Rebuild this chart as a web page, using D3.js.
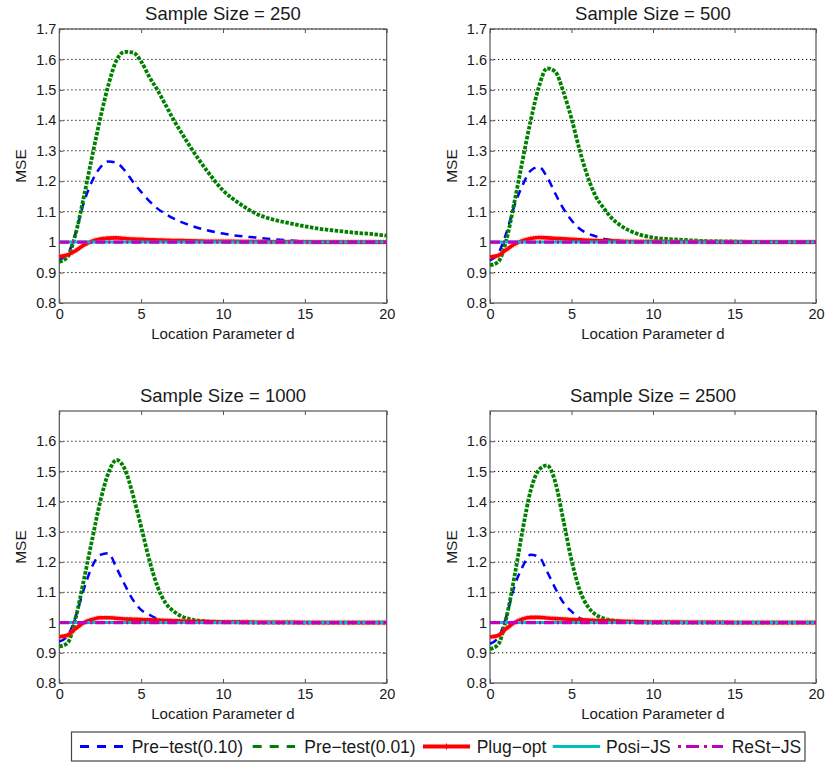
<!DOCTYPE html>
<html><head><meta charset="utf-8">
<script src="https://cdn.jsdelivr.net/npm/d3@7"></script>
<style>
body{margin:0;background:#fff;}
svg{display:block;font-family:"Liberation Sans",Arial,sans-serif;}
</style></head>
<body><svg id="c" width="827" height="763"></svg>
<script>
// ---------- data ----------
const dGrid = [0,0.5,1,1.5,2,2.5,3,3.5,4,4.5,5,5.5,6,6.5,7,7.5,8,9,10,11,12,13,14,15,16,17,18,19,20];
const dFlat = [0,5,10,15,20];
const xTicks = [0,5,10,15,20];
const yTicksTop = [0.8,0.9,1.0,1.1,1.2,1.3,1.4,1.5,1.6,1.7];
const yTicksBottom = [0.8,0.9,1.0,1.1,1.2,1.3,1.4,1.5,1.6];
const titles = ["Sample Size = 250","Sample Size = 500","Sample Size = 1000","Sample Size = 2500"];
const seriesNames = ["Pre\u2212test(0.10)","Pre\u2212test(0.01)","Plug\u2212opt","Posi\u2212JS","ReSt\u2212JS"];

const pre10_250 = [0.942,0.96,1.03,1.13,1.20,1.245,1.265,1.26,1.235,1.198,1.165,1.135,1.11,1.092,1.077,1.065,1.055,1.039,1.028,1.02,1.015,1.01,1.006,1.003,1.002,1.001,1.0,1.0,1.0];
const pre01_250 = [0.935,0.951,1.028,1.149,1.28,1.406,1.516,1.598,1.625,1.623,1.593,1.543,1.499,1.45,1.40,1.356,1.313,1.236,1.17,1.127,1.094,1.075,1.063,1.052,1.043,1.037,1.031,1.027,1.021];
const plug_250  = [0.953,0.958,0.972,0.99,1.003,1.01,1.013,1.014,1.012,1.01,1.009,1.008,1.007,1.006,1.005,1.005,1.004,1.003,1.003,1.002,1.002,1.001,1.001,1.001,1.0,1.0,1.0,1.0,1.0];

const pre10_500 = [0.94,0.962,1.03,1.12,1.187,1.235,1.247,1.214,1.16,1.11,1.072,1.044,1.028,1.019,1.01,1.007,1.004,1.002,1.001,1.0,1.0,1.0,1.0,1.0,1.0,1.0,1.0,1.0,1.0];
const pre01_500 = [0.924,0.935,1.006,1.132,1.269,1.40,1.51,1.571,1.56,1.494,1.406,1.302,1.214,1.149,1.11,1.077,1.055,1.028,1.015,1.01,1.007,1.004,1.003,1.002,1.001,1.001,1.0,1.0,1.0];
const plug_500  = [0.951,0.956,0.975,0.993,1.005,1.012,1.015,1.014,1.012,1.011,1.009,1.008,1.006,1.005,1.004,1.004,1.003,1.002,1.002,1.001,1.001,1.001,1.0,1.0,1.0,1.0,1.0,1.0,1.0];

const pre10_1000 = [0.937,0.955,1.02,1.11,1.185,1.224,1.229,1.18,1.125,1.075,1.042,1.026,1.012,1.006,1.003,1.002,1.001,1.0,1.0,1.0,1.0,1.0,1.0,1.0,1.0,1.0,1.0,1.0,1.0];
const pre01_1000 = [0.921,0.932,1.015,1.141,1.273,1.40,1.495,1.538,1.508,1.422,1.317,1.207,1.119,1.064,1.037,1.02,1.011,1.004,1.002,1.001,1.0,1.0,1.0,1.0,1.0,1.0,1.0,1.0,1.0];
const plug_1000  = [0.953,0.958,0.98,1.0,1.01,1.016,1.016,1.014,1.012,1.011,1.01,1.009,1.008,1.007,1.006,1.005,1.004,1.003,1.002,1.002,1.001,1.001,1.001,1.0,1.0,1.0,1.0,1.0,1.0];

const pre10_2500 = [0.93,0.95,1.02,1.12,1.185,1.224,1.218,1.169,1.114,1.066,1.037,1.015,1.007,1.003,1.002,1.001,1.0,1.0,1.0,1.0,1.0,1.0,1.0,1.0,1.0,1.0,1.0,1.0,1.0];
const pre01_2500 = [0.912,0.927,1.015,1.152,1.306,1.438,1.505,1.52,1.466,1.339,1.207,1.108,1.053,1.026,1.013,1.007,1.004,1.001,1.0,1.0,1.0,1.0,1.0,1.0,1.0,1.0,1.0,1.0,1.0];
const plug_2500  = [0.952,0.957,0.98,1.0,1.012,1.017,1.017,1.015,1.013,1.012,1.01,1.009,1.008,1.007,1.006,1.005,1.004,1.003,1.002,1.002,1.001,1.001,1.001,1.0,1.0,1.0,1.0,1.0,1.0];

const posiJS = [1,1,1,1,1];
const restJS = [1,1,1,1,1];

// ---------- layout ----------
const panels = [
  {title:titles[0], x0:59.3, x1:386.7, y0:29,  y1:303, yt:yTicksTop,    s:[pre10_250,pre01_250,plug_250]},
  {title:titles[1], x0:490,  x1:816,   y0:29,  y1:303, yt:yTicksTop,    s:[pre10_500,pre01_500,plug_500]},
  {title:titles[2], x0:59.3, x1:386.7, y0:411, y1:683, yt:yTicksBottom, s:[pre10_1000,pre01_1000,plug_1000]},
  {title:titles[3], x0:490,  x1:816,   y0:411, y1:683, yt:yTicksBottom, s:[pre10_2500,pre01_2500,plug_2500]}
];
const styles = [
  {color:"#0000ff", w:2.5, dash:"8,6"},
  {color:"#008000", w:3.8, dash:"3.5,1.5"},
  {color:"#ff0000", w:3.6, dash:null},
  {color:"#00bfbf", w:3,   dash:null},
  {color:"#bf00bf", w:3.2, dash:"10,3,2,3"}
];
const textColor = "#1a1a1a";
const axisColor = "#555";
const svg = d3.select("#c");
const fmt = v => String(+v.toFixed(1));

panels.forEach(p => {
  const x = d3.scaleLinear().domain([0,20]).range([p.x0,p.x1]);
  const y = d3.scaleLinear().domain([0.8,1.7]).range([p.y1,p.y0]);
  const g = svg.append("g");

  // grid
  g.selectAll("line.grid").data(p.yt.filter(v => v > 0.85)).enter().append("line")
    .attr("x1", p.x0).attr("x2", p.x1).attr("y1", d => y(d)).attr("y2", d => y(d))
    .attr("stroke", "#000").attr("stroke-width", 1).attr("stroke-dasharray", "1.2,2.8");

  // box
  g.append("rect").attr("x", p.x0).attr("y", p.y0).attr("width", p.x1-p.x0).attr("height", p.y1-p.y0)
    .attr("fill", "none").attr("stroke", axisColor).attr("stroke-width", 1.2);

  // axes
  const ab = g.append("g").attr("transform", `translate(0,${p.y1})`)
    .call(d3.axisBottom(x).tickValues(xTicks).tickSize(-4).tickPadding(6).tickFormat(d3.format("d")));
  const al = g.append("g").attr("transform", `translate(${p.x0},0)`)
    .call(d3.axisLeft(y).tickValues(p.yt).tickSize(-4).tickPadding(3).tickFormat(fmt));
  const at = g.append("g").attr("transform", `translate(0,${p.y0})`)
    .call(d3.axisTop(x).tickValues(xTicks).tickSize(-4).tickFormat(""));
  const ar = g.append("g").attr("transform", `translate(${p.x1},0)`)
    .call(d3.axisRight(y).tickValues(p.yt).tickSize(-4).tickFormat(""));
  [ab,al,at,ar].forEach(a => {
    a.select(".domain").remove();
    a.selectAll(".tick line").attr("stroke", axisColor);
    a.selectAll(".tick text").attr("fill", textColor).style("font-size","14.5px")
      .style("font-family","'Liberation Sans',Arial,sans-serif");
  });

  // curves
  const line = d3.line().x((d,i) => x(dGrid[i])).y(d => y(d)).curve(d3.curveMonotoneX);
  const flat = d3.line().x((d,i) => x(dFlat[i])).y(d => y(d));
  p.s.forEach((arr, k) => {
    const st = styles[k];
    if (k === 2) {
      g.append("path").attr("d", line(arr)).attr("fill","none")
        .attr("stroke","#ff5050").attr("stroke-opacity",0.45).attr("stroke-width",5.5)
        .attr("stroke-dasharray","1.5,1");
    }
    const path = g.append("path").attr("d", line(arr)).attr("fill","none")
      .attr("stroke", st.color).attr("stroke-width", st.w);
    if (st.dash) path.attr("stroke-dasharray", st.dash);
  });
  [posiJS, restJS].forEach((arr, j) => {
    const st = styles[3+j];
    const path = g.append("path").attr("d", flat(arr)).attr("fill","none")
      .attr("stroke", st.color).attr("stroke-width", st.w);
    if (st.dash) path.attr("stroke-dasharray", st.dash);
  });

  // titles & labels
  g.append("text").attr("x", (p.x0+p.x1)/2).attr("y", p.y0-9).attr("text-anchor","middle")
    .attr("fill", textColor).style("font-size","18.5px").text(p.title);
  g.append("text").attr("x", (p.x0+p.x1)/2).attr("y", p.y1+36).attr("text-anchor","middle")
    .attr("fill", textColor).style("font-size","15px").text("Location Parameter d");
  g.append("text").attr("transform", `translate(${p.x0-33},${(p.y0+p.y1)/2}) rotate(-90)`)
    .attr("text-anchor","middle").attr("fill", textColor).style("font-size","15.5px").text("MSE");
});

// ---------- legend ----------
const lg = svg.append("g");
lg.append("rect").attr("x",71.5).attr("y",732).attr("width",733.5).attr("height",29)
  .attr("fill","#fff").attr("stroke","#444").attr("stroke-width",1.2);
const legendItems = [
  {lx0:80,  lx1:123, tx:131.7},
  {lx0:252.7, lx1:295, tx:304.3},
  {lx0:423, lx1:470, tx:476.7},
  {lx0:552.7, lx1:600, tx:606},
  {lx0:678, lx1:723, tx:731.7}
];
const legendDash = ["9,8","9,8",null,null,"3,5,13,5"];
const ly = 746.5;
legendItems.forEach((it, k) => {
  const st = styles[k];
  const l = lg.append("line").attr("x1", it.lx0).attr("x2", it.lx1).attr("y1", ly).attr("y2", ly)
    .attr("stroke", st.color).attr("stroke-width", k===2 ? 4 : 3.2);
  if (legendDash[k]) l.attr("stroke-dasharray", legendDash[k]);
  if (k === 2) {
    lg.append("line").attr("x1",(it.lx0+it.lx1)/2).attr("x2",(it.lx0+it.lx1)/2)
      .attr("y1",ly-3).attr("y2",ly+3).attr("stroke",st.color).attr("stroke-width",1);
  }
  lg.append("text").attr("x", it.tx).attr("y", ly+6.2).attr("fill", textColor)
    .style("font-size","17.5px").text(seriesNames[k]);
});
</script>
</body></html>
